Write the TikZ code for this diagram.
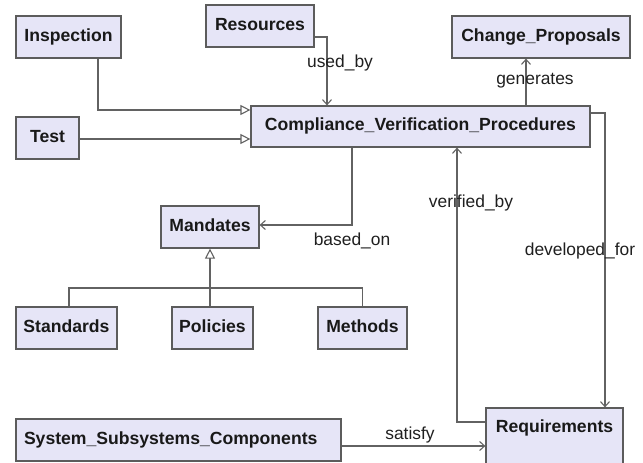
\documentclass[tikz,border=0pt]{standalone}
\usepackage{fontspec}
\setmainfont{Liberation Sans}
\usetikzlibrary{arrows.meta}
\definecolor{boxfill}{HTML}{E6E5F7}
\definecolor{boxline}{HTML}{5C5C5C}
\definecolor{wire}{HTML}{626262}
\tikzset{
  box/.style={draw=boxline, fill=boxfill, line width=1.2pt, rectangle,
    font=\fontsize{17.6}{19}\selectfont\bfseries, text=black!90,
    text height=12.6pt, text depth=3.7pt, inner sep=0pt},
  lbl/.style={font=\fontsize{17.4}{19}\selectfont, text=black!88, inner sep=0pt,
    text height=12.6pt, text depth=3.7pt},
  wireline/.style={draw=wire, line width=1.1pt},
  uses/.style={wireline, -{Straight Barb[length=5pt, width=9pt]}},
  inherits/.style={wireline, -{Triangle[open, length=10pt, width=10pt, fill=white]}}
}
\begin{document}
\begin{tikzpicture}[x=1pt, y=-1pt]
  \useasboundingbox (0,0) rectangle (643,463);

  % classes
  \node[box, minimum width=105, minimum height=42] (insp) at (68.5,37) {Inspection};
  \node[box, minimum width=108, minimum height=42] (res)  at (260,26)  {Resources};
  \node[box, minimum width=63,  minimum height=42] (test) at (47.5,138) {Test};
  \node[box, minimum width=339, minimum height=41] (cvp)  at (420.5,126.5) {Compliance\_Verification\_Procedures};
  \node[box, minimum width=178, minimum height=42] (cp)   at (541,37) {Change\_Proposals};
  \node[box, minimum width=98,  minimum height=42] (mand) at (210,227) {Mandates};
  \node[box, minimum width=101, minimum height=42] (std)  at (66.5,328) {Standards};
  \node[box, minimum width=81,  minimum height=42] (pol)  at (212.5,328) {Policies};
  \node[box, minimum width=89,  minimum height=42] (meth) at (362.5,328) {Methods};
  \node[box, minimum width=325, minimum height=42,
        label={[box, draw=none, fill=none, anchor=west, xshift=8pt]west:System\_Subsystems\_Components}]
        (ssc) at (178.5,440) {};
  \node[box, minimum width=137, minimum height=80,
        label={[box, draw=none, fill=none, anchor=north, yshift=-11.4pt]north:Requirements}]
        (req) at (554.5,448) {};

  % generalisations into the procedures
  \draw[inherits] ([xshift=29.5pt]insp.south) |- ([yshift=16.5pt]cvp.west);
  \draw[inherits] ([yshift=-1pt]test.east) -- ([yshift=-1pt]cvp.west |- test.east);

  % associations
  \draw[uses] ([yshift=-11pt]res.east) -| ([xshift=-93.5pt]cvp.north);
  \draw[uses] ([xshift=105.5pt]cvp.north) -- ([xshift=105.5pt]cvp.north |- cp.south);
  \draw[uses] ([yshift=13.5pt]cvp.east) -| ([xshift=50.5pt]req.north);
  \draw[uses] ([xshift=-68.5pt]cvp.south) |- ([yshift=2pt]mand.east);
  \draw[uses] ([yshift=26pt]req.west) -| ([xshift=36.5pt]cvp.south);
  \draw[uses] ([yshift=-6pt]ssc.east) -- ([yshift=-6pt]req.west |- ssc.east);

  % mandate kinds
  \coordinate (bar) at (210,288);
  \draw[wireline] ([xshift=2.5pt]std.north) |- (bar) -| (meth.north);
  \draw[wireline] (pol.north -| mand.south) -- (bar);
  \draw[inherits] (bar) -- (mand.south);

  % association names
  \node[lbl] (l1) at (340,63)  {used\_by};
  \node[lbl] (l2) at (535,80)  {generates};
  \node[lbl] (l3) at (352,241) {based\_on};
  \node[lbl] (l4) at (471,203) {verified\_by};
  \node[lbl] (l5) at (580,251) {developed\_for};
  \node[lbl] (l6) at (410,435) {satisfy};
\end{tikzpicture}
\end{document}
